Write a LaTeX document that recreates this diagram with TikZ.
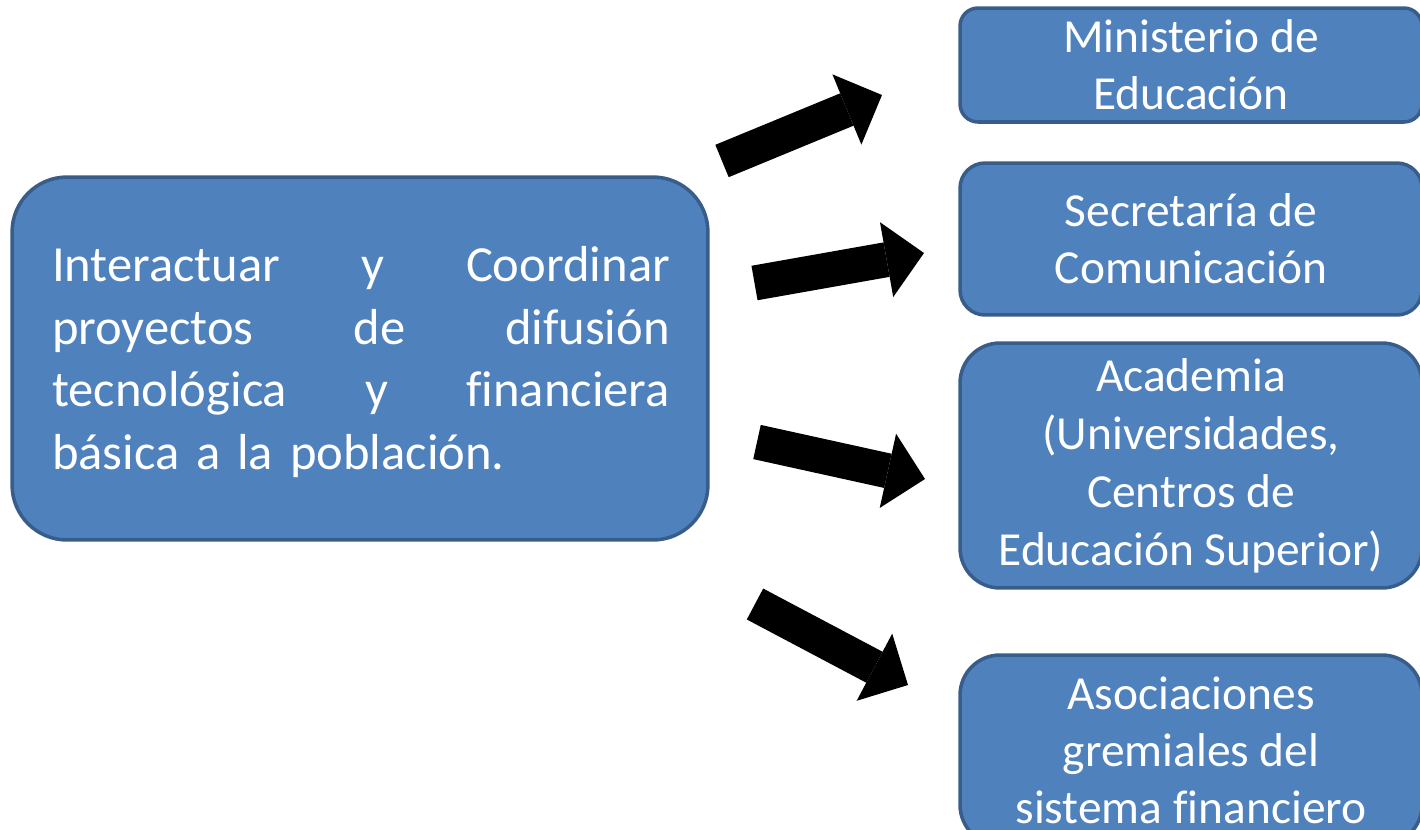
\documentclass[tikz,border=0pt]{standalone}
\usepackage{fontspec}
\setmainfont{Carlito}[Ligatures=CommonOff]
\usetikzlibrary{positioning, arrows.meta, calc}
\definecolor{boxFill}{HTML}{4F81BD}
\definecolor{boxLine}{HTML}{385D8A}
\tikzstyle{bluebox} =[draw=boxLine, fill=boxFill, line width=2pt, text=white, align=center, inner sep=0pt]
\tikzstyle{fatarrow} =[line width=0.7cm, -{Triangle[length=0.76cm, width=1.52cm, line width=0pt]}]

\begin{document}
\begin{tikzpicture}[x=0.02cm, y=-0.02cm]
\useasboundingbox (0,0) rectangle (1420,829);

\node (mainTask) [bluebox, rounded corners=1.1cm, minimum width=13.92cm, minimum height=7.26cm] at (360,358.5) {};
\node (mainText) [text=white, align=left, text width=12.36cm, font=\fontsize{28.8}{35.7}\selectfont] at (361,362)
	{Interactuar\hfill y\hfill Coordinar\\proyectos\hfill de\hfill difusión\\tecnológica\hfill y\hfill financiera\\básica a la población.};

\node (ministerio) [bluebox, rounded corners=0.36cm, minimum width=9.24cm, minimum height=2.28cm, font=\fontsize{27}{32.5}\selectfont] at (1191,65) {Ministerio de\\Educación};
\node (secretaria) [bluebox, rounded corners=0.5cm, minimum width=9.24cm, minimum height=3.04cm, font=\fontsize{27}{32.5}\selectfont] at (1191,239) {Secretaría de\\Comunicación};
\node (academia) [bluebox, rounded corners=0.8cm, minimum width=9.24cm, minimum height=4.9cm, font=\fontsize{27}{33}\selectfont] at (1191,465.5) {Academia\\(Universidades,\\Centros de\\Educación Superior)};
\node (asociaciones) [bluebox, rounded corners=0.8cm, minimum width=9.24cm, minimum height=3.8cm, font=\fontsize{27}{32.5}\selectfont] at (1191,750) {Asociaciones\\gremiales del\\sistema financiero};

% arrow ends
\coordinate (tailOne) at (722,161);
\coordinate (tipOne) at (882,95);
\coordinate (tailTwo) at (754.5,283);
\coordinate (tipTwo) at (924,253);
\coordinate (tailThree) at (757,442);
\coordinate (tipThree) at (925,479);
\coordinate (tailFour) at (755,604);
\coordinate (tipFour) at (908,685);

\draw[fatarrow] (tailOne) -- (tipOne);
\draw[fatarrow] (tailTwo) -- (tipTwo);
\draw[fatarrow] (tailThree) -- (tipThree);
\draw[fatarrow] (tailFour) -- (tipFour);

\end{tikzpicture}
\end{document}
